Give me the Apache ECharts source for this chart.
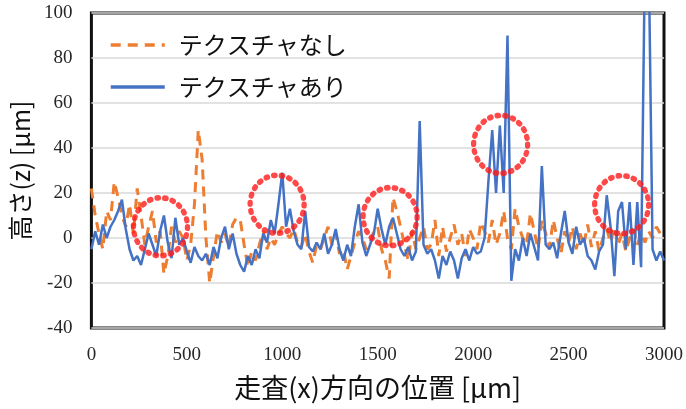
<!DOCTYPE html>
<html>
<head>
<meta charset="utf-8">
<script src="https://cdn.jsdelivr.net/npm/echarts@6/dist/echarts.min.js"></script>
<style>
  html, body { margin: 0; padding: 0; background: #fff; }
  #chart { width: 686px; height: 409px; }
</style>
</head>
<body>
<div id="chart"></div>
<script>
// 走査位置 (µm), 20 µm きざみ
var positions = [];
for (var p = 0; p <= 3000; p += 20) positions.push(p);

var noTexture = [
  22, 10, 2, -5, 12, 8, 25, 18, 10, 5,
  15, 2, 22, 10, -3, 5, 12, -2, 3, -16,
  -8, 5, -2, 3, 0, -10, -3, 15, 48, 35,
  0, -20, -8, 3, -2, 2, -4, 6, 9, 8,
  -3, -13, -6, -10, -3, 3, -5, 0, -3, 2,
  5, 2, 0, 4, -2, -4, 2, -6, -11, -3,
  -5, 0, 5, -3, 2, -7, -5, -14, -8, -2,
  3, 0, -5, -2, 3, 5, -5, -10, -18, 18,
  12, 5, -3, -10, 3, -5, 0, 5, -5, -3,
  8, -8, 5, -6, 0, 6, -3, 2, -8, 4,
  0, -5, 7, 3, -2, 8, -3, 2, 12, 0,
  -5, 13, 5, 0, -3, 11, 3, -5, 8, 2,
  -4, 8, 0, -7, 3, -2, 5, -5, 2, -3,
  6, -4, 3, -6, 0, 4, -2, 5, -3, 2,
  -6, 0, 4, -3, 2, -2, 3, 0, 5, 2,
  4
];

var withTexture = [
  -5, 3, -3, 6, 0, 5, 8, 12, 17, 4,
  -5, -10, -8, -12, -5, 2, -3, -8, 3, 10,
  -2, -9, 9, -3, 0, -6, -11, -4, -8, -10,
  -7, -12, -4, -9, 0, 5, -5, 2, -7, -12,
  -15, -8, -12, -5, -9, 2, -2, 8, 2, 15,
  29, 5, 13, 3, -3, -5, 12, -4, -6, -2,
  -5, 2, -7, -3, 4, -5, -10, -3, -8, 5,
  15, -2, -8, -3, 2, 13, 4, -3, 5, 9,
  2, -5, -8, -4, -10, -6, 52, -3, -7, -5,
  -10, -18, -8, -12, -6, -10, -18, -9, -5, -10,
  -4, -7, -6, 0, 25, 48, 20, 50, 20, 90,
  -19, -5, -10, 0, -8, 2, -4, -10, 32, -3,
  -5, -2, -9, 2, 12, -2, -7, 5, -3, 0,
  -8, -10, -14, -6, -3, 19, 5, -17, 12, 16,
  -5, 16, -12, 16, -13, 125, 125, -5, -10, -6,
  -10
];

// 赤い点線の丸 (注目箇所)
var markedSpots = [[362, 5], [973, 15], [1565, 9.5], [2144, 41.6], [2778, 14.8]];

var yTicks = { min: -40, max: 100, step: 20 };
var xTicks = { min: 0, max: 3000, step: 500 };

function pairs(xs, ys) {
  return xs.map(function (x, i) { return [x, ys[i]]; });
}

var chart = echarts.init(document.getElementById('chart'));

var option = {
  backgroundColor: '#fff',
  animation: false,
  grid: {
    left: 91, right: 20, top: 13, bottom: 81,
    show: true,
    borderColor: '#111',
    borderWidth: 3,
    backgroundColor: 'transparent'
  },
  legend: {
    orient: 'vertical',
    left: 104,
    top: 26,
    itemWidth: 54,
    itemHeight: 14,
    itemGap: 14,
    data: ['テクスチャなし', 'テクスチャあり'],
    itemStyle: { opacity: 0 },
    lineStyle: { width: 3.5 },
    textStyle: {
      fontFamily: 'Noto Sans CJK JP',
      fontSize: 24,
      lineHeight: 28,
      color: '#111',
      padding: [0, 0, 0, 9]
    }
  },
  xAxis: {
    type: 'value',
    min: xTicks.min,
    max: xTicks.max,
    interval: xTicks.step,
    name: '走査(x)方向の位置 [µm]',
    nameLocation: 'middle',
    nameGap: 46,
    nameTextStyle: { fontFamily: 'Noto Sans CJK JP', fontSize: 27, color: '#111' },
    axisLine: { show: false },
    axisTick: { show: false },
    splitLine: { show: false },
    axisLabel: {
      margin: 18,
      fontFamily: 'Liberation Serif',
      fontSize: 19,
      color: '#262626',
      formatter: function (v) { return String(v); }
    }
  },
  yAxis: {
    type: 'value',
    min: yTicks.min,
    max: yTicks.max,
    interval: yTicks.step,
    name: '高さ(z) [µm]',
    nameLocation: 'middle',
    nameGap: 57,
    nameRotate: 90,
    nameTextStyle: { fontFamily: 'Noto Sans CJK JP', fontSize: 25, color: '#111' },
    axisLine: { show: false },
    axisTick: { show: false },
    splitLine: { show: true, lineStyle: { color: '#d9d9d9', width: 1.5 } },
    axisLabel: {
      margin: 19,
      fontFamily: 'Liberation Serif',
      fontSize: 19,
      color: '#262626'
    }
  },
  series: [
    {
      name: 'テクスチャなし',
      type: 'line',
      data: pairs(positions, noTexture),
      symbol: 'none',
      showSymbol: false,
      clip: true,
      lineStyle: { color: '#ED7D31', width: 3, type: [10, 7] },
      itemStyle: { color: '#ED7D31' },
      z: 2
    },
    {
      name: 'テクスチャあり',
      type: 'line',
      data: pairs(positions, withTexture),
      symbol: 'none',
      showSymbol: false,
      clip: true,
      lineStyle: { color: '#4472C4', width: 2.5 },
      itemStyle: { color: '#4472C4' },
      z: 3
    },
    {
      name: 'marks',
      type: 'scatter',
      data: markedSpots,
      symbol: 'circle',
      symbolSize: [54, 58],
      silent: true,
      itemStyle: {
        color: 'rgba(0,0,0,0)',
        borderColor: '#ff1a1a',
        borderWidth: 5.5,
        borderType: [1.5, 6.5],
        borderCap: 'round'
      },
      z: 4
    }
  ]
};

chart.setOption(option);
</script>
</body>
</html>
